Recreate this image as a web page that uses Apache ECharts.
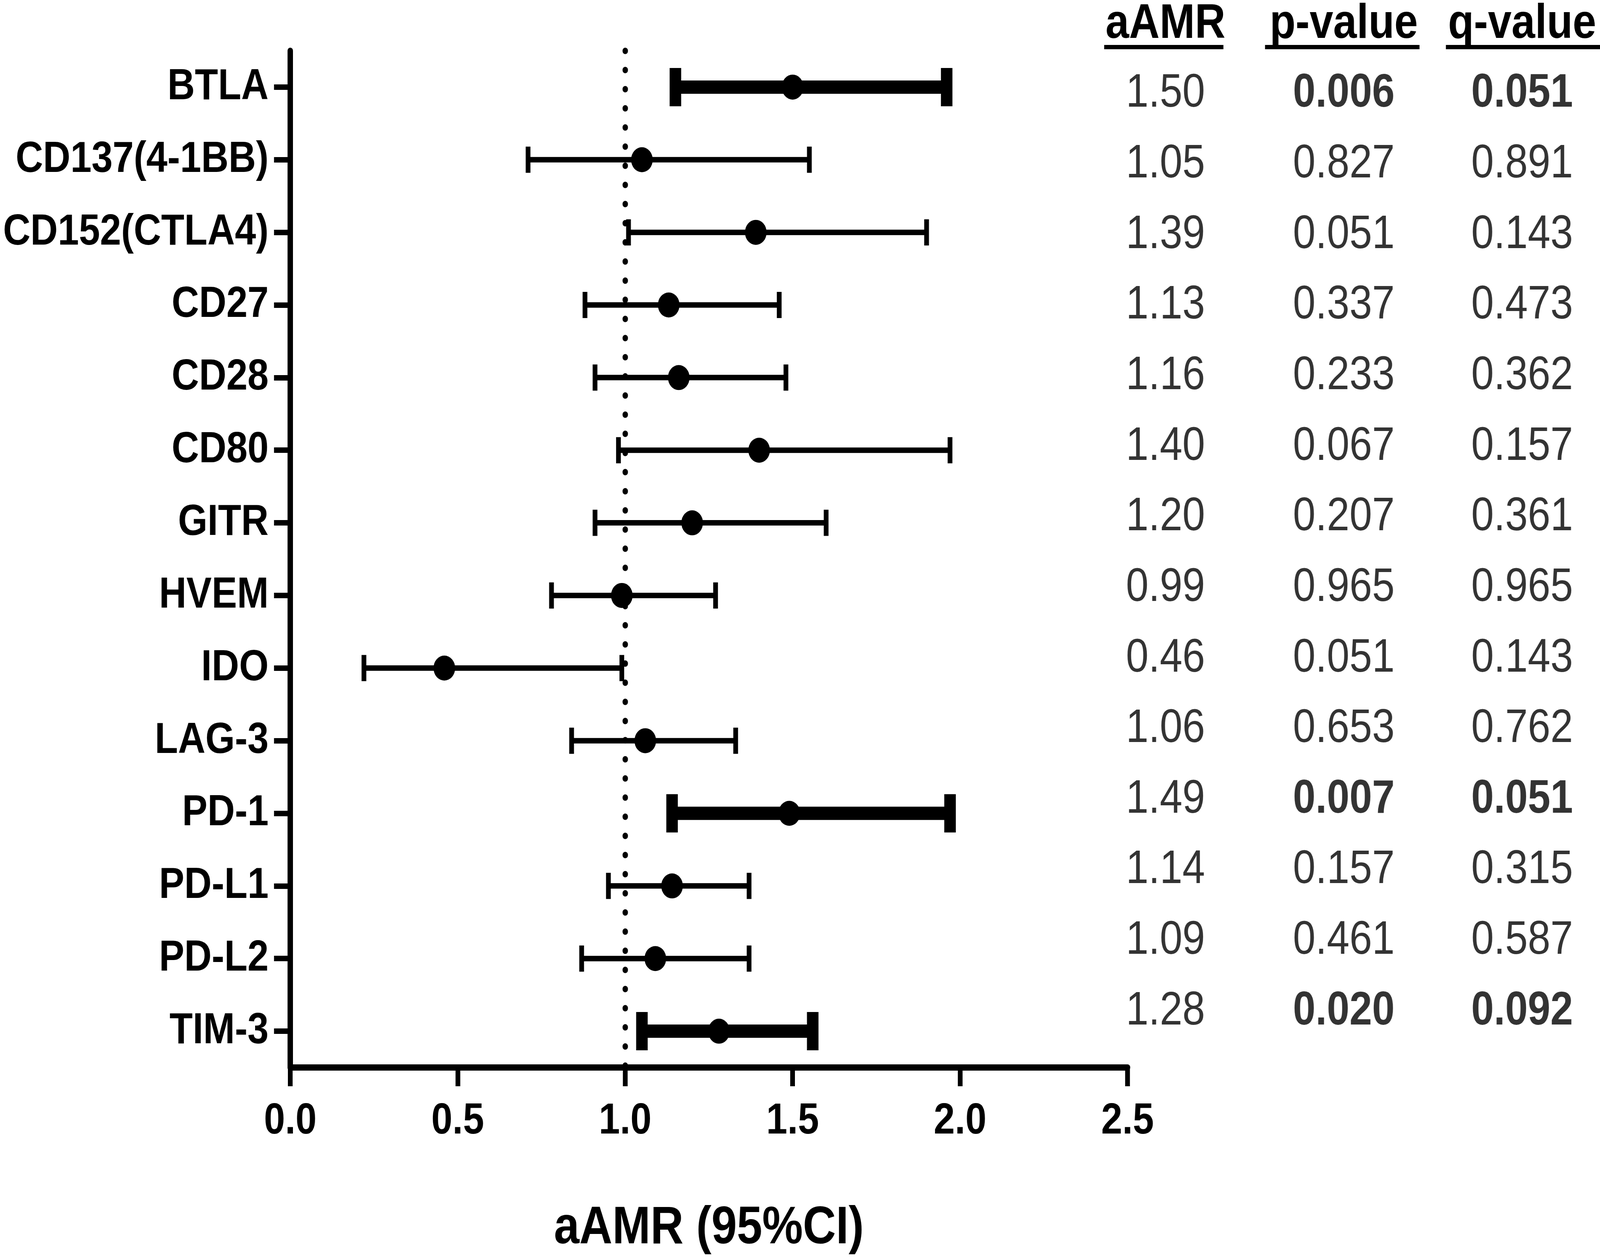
<!DOCTYPE html>
<html>
<head>
<meta charset="utf-8">
<script src="https://cdn.jsdelivr.net/npm/echarts@6/dist/echarts.min.js"></script>
<style>
html,body{margin:0;padding:0;background:#fff;overflow:hidden}
#main{width:4724px;height:3217px;transform-origin:0 0}
</style>
</head>
<body>
<div id="main"></div>
<script>
var genes = ['BTLA', 'CD137(4-1BB)', 'CD152(CTLA4)', 'CD27', 'CD28', 'CD80', 'GITR', 'HVEM', 'IDO', 'LAG-3', 'PD-1', 'PD-L1', 'PD-L2', 'TIM-3'];
var aamr = [1.50, 1.05, 1.39, 1.13, 1.16, 1.40, 1.20, 0.99, 0.46, 1.06, 1.49, 1.14, 1.09, 1.28];
var ciLow = [1.15, 0.71, 1.01, 0.88, 0.91, 0.98, 0.91, 0.78, 0.22, 0.84, 1.14, 0.95, 0.87, 1.05];
var ciHigh = [1.96, 1.55, 1.90, 1.46, 1.48, 1.97, 1.60, 1.27, 0.99, 1.33, 1.97, 1.37, 1.37, 1.56];
var pValue = ['0.006', '0.827', '0.051', '0.337', '0.233', '0.067', '0.207', '0.965', '0.051', '0.653', '0.007', '0.157', '0.461', '0.020'];
var qValue = ['0.051', '0.891', '0.143', '0.473', '0.362', '0.157', '0.361', '0.965', '0.143', '0.762', '0.051', '0.315', '0.587', '0.092'];
var columns = ['aAMR', 'p-value', 'q-value'];
var refLine = 1.0;

var font = "'Liberation Sans', Arial, sans-serif";

// the browser may give a smaller viewport than the 4724x3217 canvas: scale it to fit
var box = document.getElementById('main');
var sx = Math.min(1, window.innerWidth / 4724);
var sy = Math.min(1, window.innerHeight / 3217);
box.style.transform = 'scale(' + sx + ',' + sy + ')';

var chart = echarts.init(box);

function isSig(i) { return parseFloat(pValue[i]) < 0.05; }

// error bars: [row, low, high, significant]
var barData = genes.map(function (g, i) {
    return [i, ciLow[i], ciHigh[i], isSig(i) ? 1 : 0];
});

function renderBar(params, api) {
    var row = api.value(0);
    var lo = api.coord([api.value(1), row]);
    var hi = api.coord([api.value(2), row]);
    var sig = api.value(3) === 1;
    var w = sig ? 34 : 14;
    var capH = sig ? 98 : 67;
    var st = { stroke: '#000', lineWidth: w, fill: null };
    return {
        type: 'group',
        children: [
            { type: 'line', shape: { x1: lo[0], y1: lo[1], x2: hi[0], y2: hi[1] }, style: st },
            { type: 'line', shape: { x1: lo[0], y1: lo[1] - capH / 2, x2: lo[0], y2: lo[1] + capH / 2 }, style: st },
            { type: 'line', shape: { x1: hi[0], y1: hi[1] - capH / 2, x2: hi[0], y2: hi[1] + capH / 2 }, style: st }
        ]
    };
}

function tableColumn(col, texts, boldIfSig) {
    return {
        type: 'scatter',
        xAxisIndex: 1,
        yAxisIndex: 1,
        symbolSize: 0,
        silent: true,
        data: texts.map(function (t, i) {
            return {
                value: [col, i],
                text: t,
                label: { fontWeight: (boldIfSig && isSig(i)) ? 'bold' : 'normal' }
            };
        }),
        label: {
            show: true,
            position: 'inside',
            color: '#000',
            fontFamily: font,
            fontSize: 120,
            formatter: function (p) { return p.data.text; }
        }
    };
}

var option = {
    animation: false,
    backgroundColor: '#fff',
    grid: [
        { left: 857, top: 130, width: 2472, height: 2604 },
        { left: 3441, top: 138, width: 1053, height: 2541 }
    ],
    xAxis: [
        {
            type: 'value',
            min: 0,
            max: 2.5,
            interval: 0.5,
            name: 'aAMR (95%CI)',
            nameLocation: 'middle',
            nameGap: 345,
            nameTextStyle: { fontFamily: font, fontSize: 135, fontWeight: 'bold', color: '#000' },
            axisLine: { show: true, lineStyle: { color: '#000', width: 16 } },
            axisTick: { show: true, length: 48, lineStyle: { color: '#000', width: 14 } },
            axisLabel: {
                margin: 82,
                fontFamily: font, fontSize: 112, fontWeight: 'bold', color: '#000',
                formatter: function (v) { return v.toFixed(1); }
            },
            splitLine: { show: false }
        },
        {
            type: 'value',
            gridIndex: 1,
            min: 0,
            max: 2,
            interval: 1,
            position: 'top',
            axisLine: { show: false },
            axisTick: { show: false },
            splitLine: { show: false },
            axisLabel: {
                margin: 25,
                fontFamily: font, fontSize: 125, fontWeight: 'bold', color: '#000',
                formatter: function (v) { return columns[v]; }
            }
        }
    ],
    yAxis: [
        {
            type: 'category',
            data: genes,
            inverse: true,
            axisLine: { show: true, lineStyle: { color: '#000', width: 16 } },
            axisTick: { show: true, alignWithLabel: true, length: 48, lineStyle: { color: '#000', width: 14 } },
            axisLabel: { margin: 64, fontFamily: font, fontSize: 112, fontWeight: 'bold', color: '#000' },
            splitLine: { show: false }
        },
        {
            type: 'category',
            gridIndex: 1,
            data: genes,
            inverse: true,
            show: false
        }
    ],
    graphic: [
        { type: 'rect', shape: { x: 3260, y: 115, width: 352, height: 11 }, style: { fill: '#000' } },
        { type: 'rect', shape: { x: 3735, y: 115, width: 456, height: 11 }, style: { fill: '#000' } },
        { type: 'rect', shape: { x: 4269, y: 115, width: 455, height: 11 }, style: { fill: '#000' } }
    ],
    series: [
        {
            type: 'custom',
            renderItem: renderBar,
            encode: { x: [1, 2], y: 0 },
            data: barData,
            silent: true,
            z: 2
        },
        {
            type: 'scatter',
            symbol: 'circle',
            symbolSize: 64,
            itemStyle: { color: '#000', opacity: 1 },
            data: genes.map(function (g, i) { return [aamr[i], i]; }),
            silent: true,
            z: 3,
            markLine: {
                silent: true,
                symbol: ['none', 'none'],
                label: { show: false },
                lineStyle: { color: '#000', width: 16, type: [0.5, 48.5], cap: 'round' },
                data: [{ xAxis: refLine }]
            }
        },
        tableColumn(0, aamr.map(function (v) { return v.toFixed(2); }), false),
        tableColumn(1, pValue, true),
        tableColumn(2, qValue, true)
    ]
};

chart.setOption(option);
</script>
</body>
</html>
